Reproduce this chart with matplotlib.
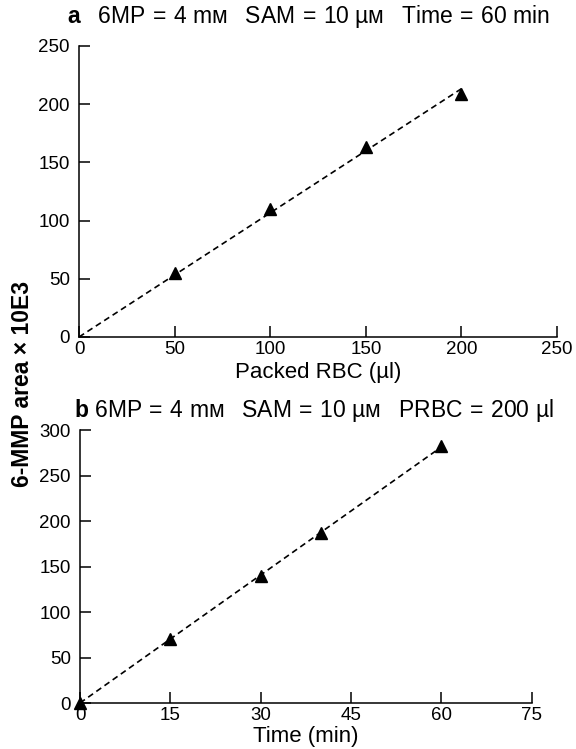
import numpy as np
import matplotlib
matplotlib.use("Agg")
import matplotlib.pyplot as plt

plt.rcParams["font.family"] = ["Liberation Sans", "DejaVu Sans"]
plt.rcParams["mathtext.fontset"] = "custom"
plt.rcParams["mathtext.bf"] = "Liberation Sans:bold"
plt.rcParams["mathtext.rm"] = "Liberation Sans"

# ── Data ──────────────────────────────────────────────────────────────────────
rbc_ul   = [50, 100, 150, 200]
area_a   = [55, 110, 163, 209]

time_min = [0, 15, 30, 40, 60]
area_b   = [0, 70, 140, 187, 282]

# the original titles are loosely set: slightly wider gaps than a plain space
EN = "\u2002"
EQ = "\u2004=\u2004"
TITLE_A = (r"$\mathbf{a}$" + EN + " 6MP" + EQ + "4 mм" + EN + " SAM"
           + EQ + "10 µм" + EN + " Time" + EQ + "60 min")
TITLE_B = (r"$\mathbf{b}$" + " 6MP" + EQ + "4 mм" + EN + " SAM"
           + EQ + "10 µм" + EN + " PRBC" + EQ + "200 µl")


def origin_fit(x, y):
    x = np.asarray(x, float)
    y = np.asarray(y, float)
    return (x * y).sum() / (x * x).sum()


def style_axis(ax, xlim, ylim, xticks, yticks):
    ax.set_xlim(*xlim)
    ax.set_ylim(*ylim)
    ax.set_xticks(xticks)
    ax.set_yticks(yticks)
    for side in ("top", "right"):
        ax.spines[side].set_visible(False)
    for side in ("left", "bottom"):
        ax.spines[side].set_linewidth(1.1)
    ax.tick_params(axis="both", direction="in", length=8, width=1.1,
                   labelsize=13.5)
    ax.tick_params(axis="y", pad=6.5)
    ax.tick_params(axis="x", pad=3)


fig = plt.figure(figsize=(5.76, 7.49), dpi=100)
ax_a = fig.add_axes([0.1372, 0.5501, 0.830, 0.3885])
ax_b = fig.add_axes([0.1389, 0.0614, 0.784, 0.3645])

# ── Panel a ───────────────────────────────────────────────────────────────────
k_a = origin_fit(rbc_ul, area_a)
xa = np.array([0, max(rbc_ul)])
ax_a.plot(xa, k_a * xa, color="black", lw=1.2, ls=(0, (3.6, 2.4)))
ax_a.plot(rbc_ul, area_a, "^", color="black", ms=9, clip_on=False)
style_axis(ax_a, (0, 250), (0, 250), np.arange(0, 251, 50), np.arange(0, 251, 50))
ax_a.set_xlabel("Packed RBC (µl)", fontsize=16, labelpad=3)

# ── Panel b ───────────────────────────────────────────────────────────────────
k_b = origin_fit(time_min, area_b)
xb = np.array([0, max(time_min)])
ax_b.plot(xb, k_b * xb, color="black", lw=1.2, ls=(0, (3.6, 2.4)))
ax_b.plot(time_min, area_b, "^", color="black", ms=9, clip_on=False, zorder=5)
style_axis(ax_b, (0, 75), (0, 300), np.arange(0, 76, 15), np.arange(0, 301, 50))
ax_b.set_xlabel("Time (min)", fontsize=16, labelpad=1)

# ── Titles and shared y label ─────────────────────────────────────────────────
fig.text(67 / 576, 1 - 17 / 749, TITLE_A, fontsize=16.5, ha="left", va="center")
fig.text(74 / 576, 1 - 411 / 749, TITLE_B, fontsize=16.5, ha="left", va="center")
fig.text(23 / 576, 1 - 384 / 749, "6-MMP area × 10E3", rotation=90,
         fontsize=16.5, fontweight="bold", ha="center", va="center")

fig.savefig("out.png", dpi=100, facecolor="white")
